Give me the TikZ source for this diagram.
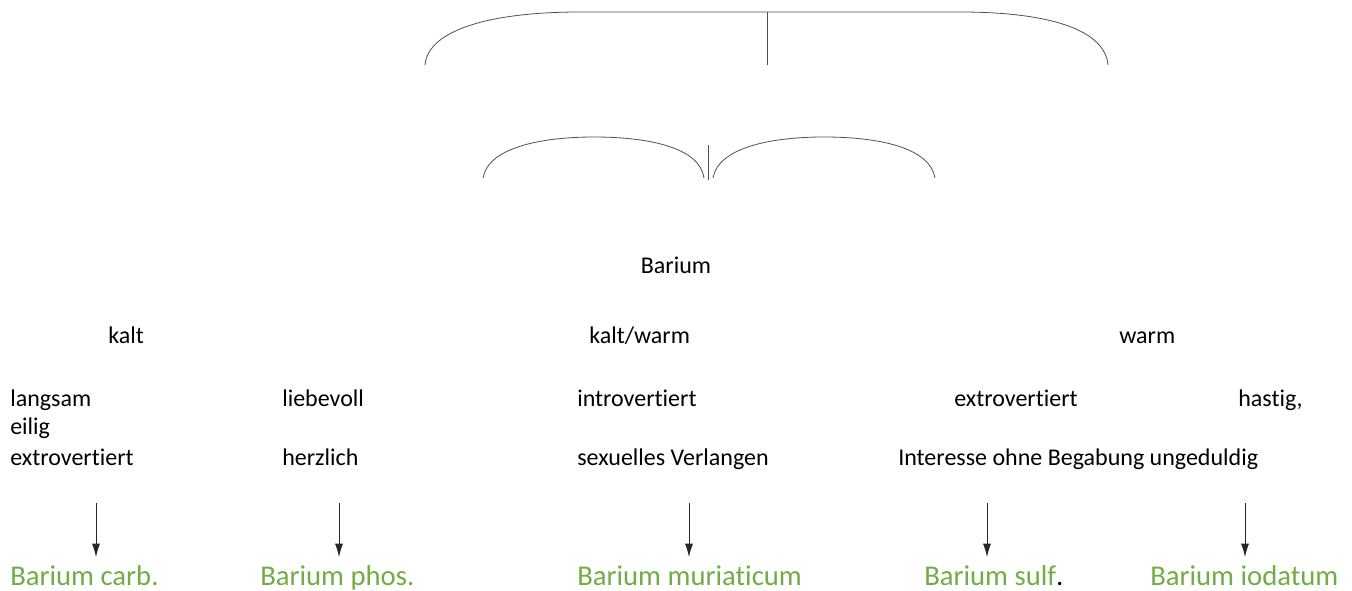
\documentclass[tikz,border=0pt]{standalone}
\usepackage{fontspec}
\setmainfont{Carlito}[Ligatures=NoCommon]
\usetikzlibrary{arrows.meta}
\definecolor{leafgreen}{RGB}{112,173,71}
\definecolor{bracegray}{RGB}{80,80,80}
\tikzset{
  word/.style={anchor=base west,inner sep=0pt,font=\fontsize{18}{21}\selectfont},
  remedy/.style={anchor=base west,inner sep=0pt,text=leafgreen,font=\fontsize{21.5}{25}\selectfont},
  pointer/.style={-{Latex[length=10pt,width=6pt]},black!85,line width=0.6pt},
  brace/.style={bracegray,line width=0.6pt}
}
\begin{document}
\begin{tikzpicture}[x=0.75pt,y=0.75pt,yscale=-1,xscale=1]
\useasboundingbox (0,0) rectangle (1352,591);

%Top brace
\draw [brace]  (425,65) .. controls (428,30) and (490,12) .. (580,12) -- (960,12) .. controls (1050,12) and (1105,30) .. (1108,65) ;
\draw [brace]  (767,12) -- (767,65) ;
%Lower braces
\draw [brace]  (483,178) .. controls (488,148) and (540,137) .. (594,137) .. controls (650,137) and (700,148) .. (704,178) ;
\draw [brace]  (713,178) .. controls (718,148) and (770,137) .. (824,137) .. controls (880,137) and (930,148) .. (935,178) ;
\draw [brace]  (708,145) -- (708,180) ;

% Text Node
\draw (676,274) node [word,anchor=base] (barium) {Barium};
% Text Node
\draw (108,344) node [word] (kalt) {kalt};
\draw (589,344) node [word] (kaltwarm) {kalt/warm};
\draw (1119,344) node [word] (warm) {warm};
% Text Node
\draw (10,406) node [word] (langsam) {langsam};
\draw (10,434) node [word] (eilig) {eilig};
\draw (10,465) node [word] (extroA) {extrovertiert};
\draw (282,406) node [word] (liebevoll) {liebevoll};
\draw (282,465) node [word] (herzlich) {herzlich};
\draw (577,406) node [word] (intro) {introvertiert};
\draw (577,465) node [word] (sexuell) {sexuelles Verlangen};
\draw (954,406) node [word] (extroB) {extrovertiert};
\draw (898,465) node [word] (interesse) {Interesse ohne Begabung ungeduldig};
\draw (1238,406) node [word] (hastig) {hastig,};

% Remedies
\draw (10,585) node [remedy] (carb) {Barium carb.};
\draw (260,585) node [remedy] (phos) {Barium phos.};
\draw (577,585) node [remedy] (muria) {Barium muriaticum};
\draw (924,585) node [remedy] (sulf) {Barium sulf\textcolor{black}{.}};
\draw (1150,585) node [remedy] (iod) {Barium iodatum};

% Arrows
\coordinate (tcarb) at (96,503);
\coordinate (tphos) at (339,503);
\coordinate (tmuria) at (689,503);
\coordinate (tsulf) at (987,503);
\coordinate (tiod) at (1245,503);
\draw [pointer] (tcarb) -- (96,557);
\draw [pointer] (tphos) -- (339,557);
\draw [pointer] (tmuria) -- (689,557);
\draw [pointer] (tsulf) -- (987,557);
\draw [pointer] (tiod) -- (1245,557);

\end{tikzpicture}
\end{document}
